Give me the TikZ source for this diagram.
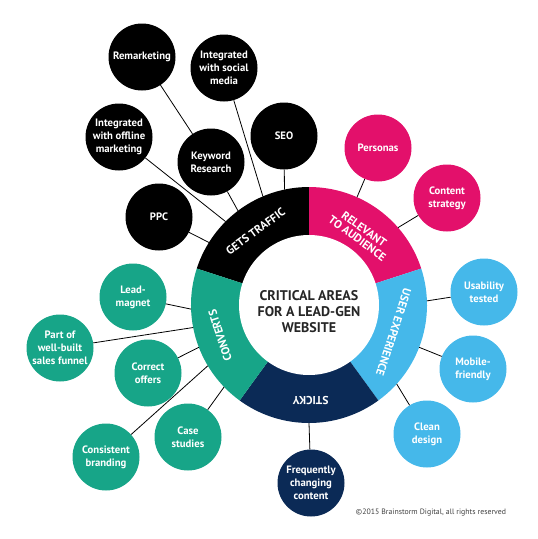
\documentclass[tikz,border=0pt]{standalone}
\usepackage{fontspec}
\setmainfont{PT Sans}
\usetikzlibrary{calc}
\definecolor{traffic}{HTML}{000000}
\definecolor{relevant}{HTML}{E3106B}
\definecolor{ux}{HTML}{45B8EA}
\definecolor{sticky}{HTML}{0B2A56}
\definecolor{converts}{HTML}{17A588}
\tikzset{
    bubble/.style={circle, inner sep=0pt, minimum size=67pt, text=white, align=center,
        font=\fontsize{10.7}{13}\selectfont\bfseries},
    ringlabel/.style={text=white, align=center, font=\fontsize{11.5}{11.5}\selectfont\bfseries},
    link/.style={line width=0.8pt}
}
\begin{document}
\begin{tikzpicture}[x=1pt,y=1pt]
                        \useasboundingbox (0,0) rectangle (538,-539);
                        \coordinate (c) at (309,-305);
                        \foreach \a/\col in {90/traffic, 18/relevant, -54/ux, -126/sticky, 162/converts}
                            \fill[\col] (c) -- ($(c)+(\a:118pt)$) arc[start angle=\a, delta angle=72, radius=118pt] -- cycle;
                        \fill[white] (c) circle[radius=70pt];

                        \node[font=\fontsize{14}{16}\selectfont\bfseries, align=center, text=black!85] (title) at (309,-312) {CRITICAL AREAS\\FOR A LEAD-GEN\\WEBSITE};

                        \node[ringlabel, rotate=36] (trafficlbl) at ($(c)+(126:91pt)$) {GETS TRAFFIC};
                        \node[ringlabel, rotate=-36] (relevantlbl) at ($(c)+(54:88pt)$) {RELEVANT\\TO AUDIENCE};
                        \node[ringlabel, rotate=-108] (uxlbl) at ($(c)+(-18:89pt)$) {USER EXPERIENCE};
                        \node[ringlabel, rotate=180] (stickylbl) at ($(c)+(-89:96pt)$) {STICKY};
                        \node[ringlabel, rotate=108] (convertslbl) at ($(c)+(199:94pt)$) {CONVERTS};

                        \node[bubble, fill=traffic] (remarketing) at (142,-57) {Remarketing};
                        \node[bubble, fill=traffic] (social) at (224,-68) {Integrated\\with social\\media};
                        \node[bubble, fill=traffic] (offline) at (119,-137) {Integrated\\with offline\\marketing};
                        \node[bubble, fill=traffic] (keyword) at (211,-162) {Keyword\\Research};
                        \node[bubble, fill=traffic] (seo) at (284,-136) {SEO};
                        \node[bubble, fill=traffic] (ppc) at (159,-217) {PPC};
                        \node[bubble, fill=relevant] (personas) at (378,-148) {Personas};
                        \node[bubble, fill=relevant] (content) at (447,-198) {Content\\strategy};
                        \node[bubble, fill=ux] (usability) at (484,-292) {Usability\\tested};
                        \node[bubble, fill=ux] (mobile) at (473,-369) {Mobile-\\friendly};
                        \node[bubble, fill=ux] (clean) at (427,-434) {Clean\\design};
                        \node[bubble, fill=sticky] (frequently) at (311,-483) {Frequently\\changing\\content};
                        \node[bubble, fill=converts] (leadmagnet) at (133,-297) {Lead-\\magnet};
                        \node[bubble, fill=converts] (funnel) at (60,-348) {Part of\\well-built\\sales funnel};
                        \node[bubble, fill=converts] (offers) at (148,-373) {Correct\\offers};
                        \node[bubble, fill=converts] (casestudies) at (188,-437) {Case\\studies};
                        \node[bubble, fill=converts] (branding) at (106,-457) {Consistent\\branding};

                        \foreach \n/\a in {seo/102, social/113, keyword/127, offline/135, ppc/148,
                                personas/66, content/41, usability/2, mobile/-21, clean/-42,
                                frequently/-90, leadmagnet/182, funnel/191, offers/201,
                                branding/211, casestudies/224} {
                            \coordinate (\n-r) at ($(c)+(\a:118pt)$);
                            \draw[link] (\n) -- (\n-r);
                        }
                        \draw[link] (remarketing) edge (keyword);

                        \node[font=\fontsize{7.8}{9}\selectfont, text=black!75] (copyright) at (431,-513) {\textcopyright2015 Brainstorm Digital, all rights reserved};
                    \end{tikzpicture}
\end{document}
